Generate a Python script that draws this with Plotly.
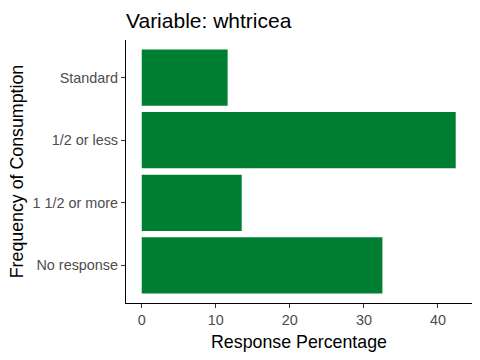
import plotly.graph_objects as go

categories = ["No response", "1 1/2 or more", "1/2 or less", "Standard"]
values = [32.5, 13.5, 42.4, 11.6]

fig = go.Figure(go.Bar(
    x=values, y=categories, orientation="h",
    marker=dict(color="#007F33", line=dict(width=0)),
    width=0.9,
))

fig.update_layout(
    width=480, height=360,
    margin=dict(l=126, r=8, t=40, b=57, autoexpand=False),
    paper_bgcolor="white", plot_bgcolor="white",
    font=dict(family="Liberation Sans, Arial", color="black"),
    title=dict(text="Variable: whtricea", x=0, xref="paper", xanchor="left",
               y=1, yref="container", yanchor="top", pad=dict(t=13),
               font=dict(size=21, color="black")),
    showlegend=False,
    bargap=0.1,
)
fig.update_xaxes(
    range=[-2.125, 44.6], tickvals=[0, 10, 20, 30, 40],
    showline=True, linecolor="black", linewidth=1.1,
    ticks="outside", ticklen=4, tickcolor="#333333",
    tickfont=dict(size=14.4, color="#4D4D4D"),
    showgrid=False, zeroline=False, automargin=False,
    title=dict(text="Response Percentage", font=dict(size=17.8, color="black"), standoff=8),
)
fig.update_yaxes(
    categoryorder="array", categoryarray=categories,
    range=[-0.6, 3.6],
    showline=True, linecolor="black", linewidth=1.1,
    ticks="outside", ticklen=4, tickcolor="#333333",
    tickfont=dict(size=14.4, color="#4D4D4D"),
    showgrid=False, zeroline=False, automargin=False,
    title=dict(text="Frequency of Consumption", font=dict(size=17.8, color="black"), standoff=4),
)

fig.write_html("out.html", config={"displayModeBar": False},
               post_script="document.body.style.margin='0';")
